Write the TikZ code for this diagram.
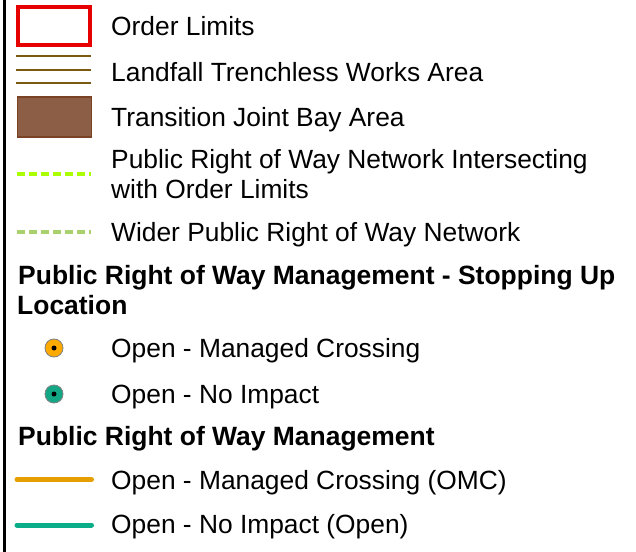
\documentclass[tikz,border=0pt]{standalone}
\usepackage{fontspec}
\setmainfont{Liberation Sans}
\definecolor{redl}{HTML}{E60000}
\definecolor{brownl}{HTML}{7A5A10}
\definecolor{brownf}{HTML}{8B5E45}
\definecolor{brownd}{HTML}{7A4326}
\definecolor{limeg}{HTML}{AAFF00}
\definecolor{paleg}{HTML}{AAD06E}
\definecolor{orangec}{HTML}{FFAA00}
\definecolor{tealc}{HTML}{12A885}
\definecolor{orangel}{HTML}{E69F00}
\definecolor{teall}{HTML}{0AAD87}
\tikzset{
  lbl/.style={anchor=base west,inner sep=0pt,font=\fontsize{26.45}{30}\selectfont},
  hdr/.style={anchor=base west,inner sep=0pt,font=\fontsize{26.55}{30}\selectfont\bfseries},
  trench/.style={draw=brownl,line width=1.1bp},
  dashline/.style={line width=4bp,dash pattern=on 8bp off 4bp},
  stopc/.style={circle,draw=gray,line width=0.8bp,minimum size=18bp,inner sep=0pt},
  pin/.style={circle,fill=black,minimum size=5bp,inner sep=0pt},
  mgmt/.style={line width=5bp,line cap=round}
}
\begin{document}
\begin{tikzpicture}[x=1bp,y=-1bp]
\useasboundingbox (0,0) rectangle (636,552);
\fill[white] (0,0) rectangle (636,552);
\coordinate (bt) at (4.8,0);
\coordinate (bb) at (4.8,552);
\draw[black,line width=3bp] (bt) -- (bb);
\node[draw=redl,line width=3.8bp,minimum width=72bp,minimum height=38bp,inner sep=0pt,anchor=north west] (limits) at (16,5.5) {};
\coordinate (t1a) at (16,56); \coordinate (t1b) at (91,56);
\coordinate (t2a) at (16,70); \coordinate (t2b) at (91,70);
\coordinate (t3a) at (16,83); \coordinate (t3b) at (91,83);
\draw[trench] (t1a) -- (t1b);
\draw[trench] (t2a) -- (t2b);
\draw[trench] (t3a) -- (t3b);
\node[draw=brownd,fill=brownf,line width=1.2bp,minimum width=74bp,minimum height=40bp,inner sep=0pt,anchor=north west] (bay) at (16.5,96.5) {};
\coordinate (d1a) at (17,174.5); \coordinate (d1b) at (91,174.5);
\draw[dashline,limeg] (d1a) -- (d1b);
\coordinate (d2a) at (17,232); \coordinate (d2b) at (91,232);
\draw[dashline,paleg] (d2a) -- (d2b);
\node[stopc,fill=orangec] (c1) at (54,348) {};
\node[pin] (p1) at (54,348) {};
\node[stopc,fill=tealc] (c2) at (54,394) {};
\node[pin] (p2) at (54,394) {};
\coordinate (m1a) at (17,479.5); \coordinate (m1b) at (91.5,479.5);
\draw[mgmt,orangel] (m1a) -- (m1b);
\coordinate (m2a) at (17,525); \coordinate (m2b) at (91.5,525);
\draw[mgmt,teall] (m2a) -- (m2b);
\node[lbl] (t1) at (111,35.7) {Order Limits};
\node[lbl] (t2) at (111,81.7) {Landfall Trenchless Works Area};
\node[lbl] (t3) at (111,126.7) {Transition Joint Bay Area};
\node[lbl] (t4) at (111,168.7) {Public Right of Way Network Intersecting};
\node[lbl] (t5) at (111,198.7) {with Order Limits};
\node[lbl] (t6) at (111,241.7) {Wider Public Right of Way Network};
\node[hdr] (h1) at (18,284.5) {Public Right of Way Management - Stopping Up};
\node[hdr] (h2) at (17,314.5) {Location};
\node[lbl] (t7) at (111,357.5) {Open - Managed Crossing};
\node[lbl] (t8) at (111,403.5) {Open - No Impact};
\node[hdr] (h3) at (18,445.5) {Public Right of Way Management};
\node[lbl] (t9) at (111,489.5) {Open - Managed Crossing (OMC)};
\node[lbl] (t10) at (111,533.5) {Open - No Impact (Open)};
\end{tikzpicture}
\end{document}
